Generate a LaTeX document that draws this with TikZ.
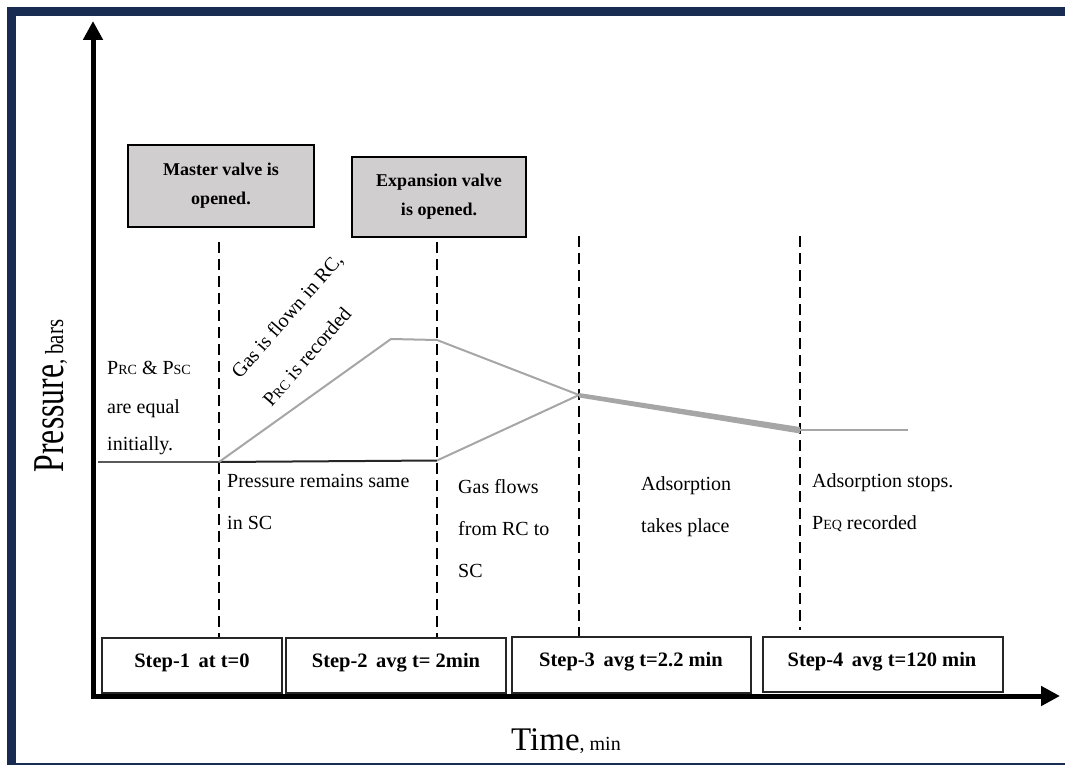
\documentclass[tikz,border=0pt]{standalone}
\usepackage{graphicx}
\usepackage{fontspec}
\setmainfont{Liberation Serif}
\usetikzlibrary{arrows.meta}
\definecolor{navy}{RGB}{24,43,80}
\definecolor{boxgray}{RGB}{208,206,206}
\definecolor{curvegray}{RGB}{166,166,166}
\newcommand\smc[1]{{\fontsize{14}{14}\selectfont #1}}
\newcommand\fs[1]{\fontsize{#1}{#1}\selectfont}
\begin{document}
\begin{tikzpicture}[x=1pt,y=-1pt,
  stepbox/.style={draw=black!85,line width=1.3pt,fill=white,inner sep=0pt},
  valvebox/.style={draw=black,line width=2pt,fill=boxgray,align=center,inner sep=0pt,font=\fontsize{18}{29}\selectfont\bfseries},
  steptext/.style={anchor=base,font=\fs{20.5}\bfseries,inner sep=0pt},
  bodytext/.style={anchor=base west,font=\fs{20},inner sep=0pt},
  guide/.style={draw=black,line width=2.2pt,dash pattern=on 11pt off 6pt},
  curve/.style={draw=curvegray,line width=2pt},
  axis/.style={draw=black,line width=5pt,-{Triangle[length=19pt,width=19pt]}},
]
\useasboundingbox (0,0) rectangle (1065,765);
% frame
\fill[navy] (7,7) rectangle (16,765);
\fill[navy] (7,7) rectangle (1065,16);
\fill[navy] (7,762.5) rectangle (1065,765);

% vertical guide lines
\coordinate (d1t) at (219,242); \coordinate (d1b) at (219,638);
\coordinate (d2t) at (437,242); \coordinate (d2b) at (437,638);
\coordinate (d3t) at (579,236); \coordinate (d3b) at (579,637);
\coordinate (d4t) at (800,236); \coordinate (d4b) at (800,630);
\draw[guide] (d1t) -- (d1b);
\draw[guide] (d2t) -- (d2b);
\draw[guide] (d3t) -- (d3b);
\draw[guide] (d4t) -- (d4b);

% pressure curves
\coordinate (c0) at (98,462);
\coordinate (c1) at (219,462);
\coordinate (c2) at (391,339);
\coordinate (c3) at (437,340);
\coordinate (c4) at (437,460.5);
\coordinate (c5) at (579,395);
\coordinate (c6) at (800,430);
\coordinate (c7) at (908,430);
\draw[draw=black!65,line width=1.6pt] (c0) -- (c1);
\draw[draw=black!85,line width=2pt] (c1) -- (c4);
\draw[curve] (c1) -- (c2) -- (c3) -- (c5);
\draw[curve] (c4) -- (c5);
\fill[curvegray] (579,393) -- (800,427) -- (800,433.5) -- (579,397.5) -- cycle;
\draw[curve] (c6) -- (c7);

% valve boxes
\node[valvebox,minimum width=186pt,minimum height=82pt] (mv) at (221,186) {Master valve is\\opened.};
\node[valvebox,minimum width=174pt,minimum height=80pt] (ev) at (439,197) {Expansion valve\\is opened.};

% step boxes
\node[stepbox,minimum width=180pt,minimum height=55pt] (b1) at (192,665.5) {};
\node[stepbox,minimum width=220pt,minimum height=55pt] (b2) at (396,665.5) {};
\node[stepbox,minimum width=239pt,minimum height=56pt] (b3) at (631.5,665) {};
\node[stepbox,minimum width=240pt,minimum height=55pt] (b4) at (883,664.5) {};
\node[steptext] (t1) at (192,667) {Step-1\,\ at t=0};
\node[steptext] (t2) at (396,667) {Step-2\,\ avg t= 2min};
\node[steptext] (t3) at (631,666) {Step-3\,\ avg t=2.2 min};
\node[steptext] (t4) at (882,666) {Step-4\,\ avg t=120 min};

% axes
\coordinate (O) at (93,698.5);
\coordinate (ytip) at (93,21);
\coordinate (O2) at (90.5,696);
\coordinate (xtip) at (1060,696);
\draw[axis] (O) -- (ytip);
\draw[axis] (O2) -- (xtip);

% axis labels
\node[rotate=90,anchor=base,inner sep=0pt] (ylab) at (63,396)
  {\scalebox{0.72}[1]{\fs{44}Pressure}\scalebox{0.8}[1]{\fs{26}, bars}};
\node[anchor=base,inner sep=0pt] (xlab) at (566,750) {\fs{33}Time\fs{20}, min};

% annotations
\node[bodytext] (l1) at (107,374) {P\smc{RC} \& P\smc{SC}};
\node[bodytext] (l2) at (107,413) {are equal};
\node[bodytext] (l3) at (107,450) {initially.};
\node[rotate=49,anchor=base,font=\fs{20},inner sep=0pt] (g1) at (292,320) {Gas is flown in RC,};
\node[rotate=49,anchor=base,font=\fs{20},inner sep=0pt] (g2) at (312,361) {P\smc{RC} is recorded};
\node[bodytext] (p1) at (227,487) {Pressure remains same};
\node[bodytext] (p2) at (227,529) {in SC};
\node[bodytext] (f1) at (458,493) {Gas flows};
\node[bodytext] (f2) at (458,535) {from RC to};
\node[bodytext] (f3) at (458,577) {SC};
\node[bodytext] (a1) at (641,490) {Adsorption};
\node[bodytext] (a2) at (641,532) {takes place};
\node[bodytext] (s1) at (812,487) {Adsorption stops.};
\node[bodytext] (s2) at (812,529) {P\smc{EQ} recorded};
\end{tikzpicture}
\end{document}
